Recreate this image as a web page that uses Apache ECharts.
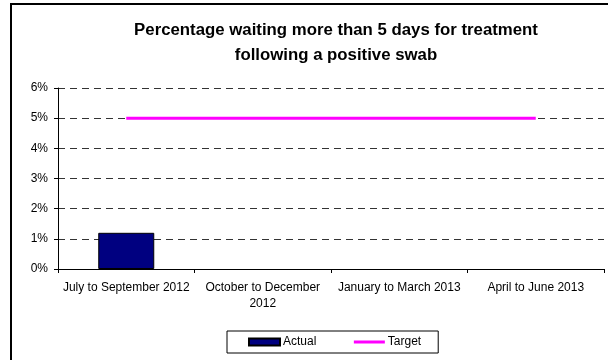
<!DOCTYPE html>
<html><head><meta charset="utf-8">
<script src="https://cdn.jsdelivr.net/npm/echarts@6/dist/echarts.min.js"></script>
<style>html,body{margin:0;padding:0;background:#fff}#c{width:608px;height:360px}</style>
</head><body><div id="c"></div>
<script>
var categories = ['July to September 2012', 'October to December\n2012', 'January to March 2013', 'April to June 2013'];
var actual = [1.2, '-', '-', '-'];
var target = [5, 5, 5, 5];
var yTicks = [0, 1, 2, 3, 4, 5, 6];

var chart = echarts.init(document.getElementById('c'), null, {renderer: 'canvas'});
var F = 'Liberation Sans, Arial, sans-serif';
chart.setOption({
  animation: false,
  backgroundColor: '#fff',
  textStyle: {fontFamily: F},
  title: {
    text: 'Percentage waiting more than 5 days for treatment\nfollowing a positive swab',
    left: 331, top: 13, textAlign: 'center',
    textStyle: {fontFamily: F, fontSize: 16.8, fontWeight: 'bold', color: '#000', lineHeight: 25}
  },
  graphic: [{
    type: 'rect', shape: {x: 11, y: 4, width: 700, height: 500},
    style: {fill: 'none', stroke: '#000', lineWidth: 2}, silent: true, z: 100
  }],
  grid: {left: 58, right: 4, top: 88, bottom: 91},
  legend: {
    left: 227, top: 331, width: 214,
    orient: 'horizontal',
    borderColor: '#000', borderWidth: 1, borderRadius: 0,
    padding: [5, 17, 5, 21],
    itemGap: 36, itemWidth: 31, itemHeight: 7,
    textStyle: {fontFamily: F, fontSize: 12, color: '#000', padding: [0, 0, 0, -2]},
    data: [
      {name: 'Actual', icon: 'rect'},
      {name: 'Target', itemStyle: {opacity: 0}, lineStyle: {color: '#FF00FF', width: 3}}
    ]
  },
  xAxis: {
    type: 'category', data: categories, boundaryGap: true,
    axisLine: {lineStyle: {color: '#000', width: 1}},
    axisTick: {show: true, length: 4, inside: false, lineStyle: {color: '#000'}},
    axisLabel: {fontFamily: F, fontSize: 12, color: '#000', margin: 11, lineHeight: 16, interval: 0},
    splitLine: {show: false}
  },
  yAxis: {
    type: 'value', min: 0, max: 6, interval: 1,
    axisLine: {show: true, lineStyle: {color: '#000', width: 1}},
    axisTick: {show: true, length: 4, lineStyle: {color: '#000'}},
    axisLabel: {fontFamily: F, fontSize: 12, color: '#000', margin: 10, formatter: '{value}%'},
    splitLine: {show: true, lineStyle: {color: '#333', type: [7, 5], width: 1}}
  },
  series: [
    {
      name: 'Actual', type: 'bar', data: actual, barWidth: 56,
      itemStyle: {color: '#000080', borderColor: '#000', borderWidth: 1}
    },
    {
      name: 'Target', type: 'line', data: target, symbol: 'none', showSymbol: false,
      lineStyle: {color: '#FF00FF', width: 3}, itemStyle: {color: '#FF00FF'}
    }
  ]
});
</script></body></html>
